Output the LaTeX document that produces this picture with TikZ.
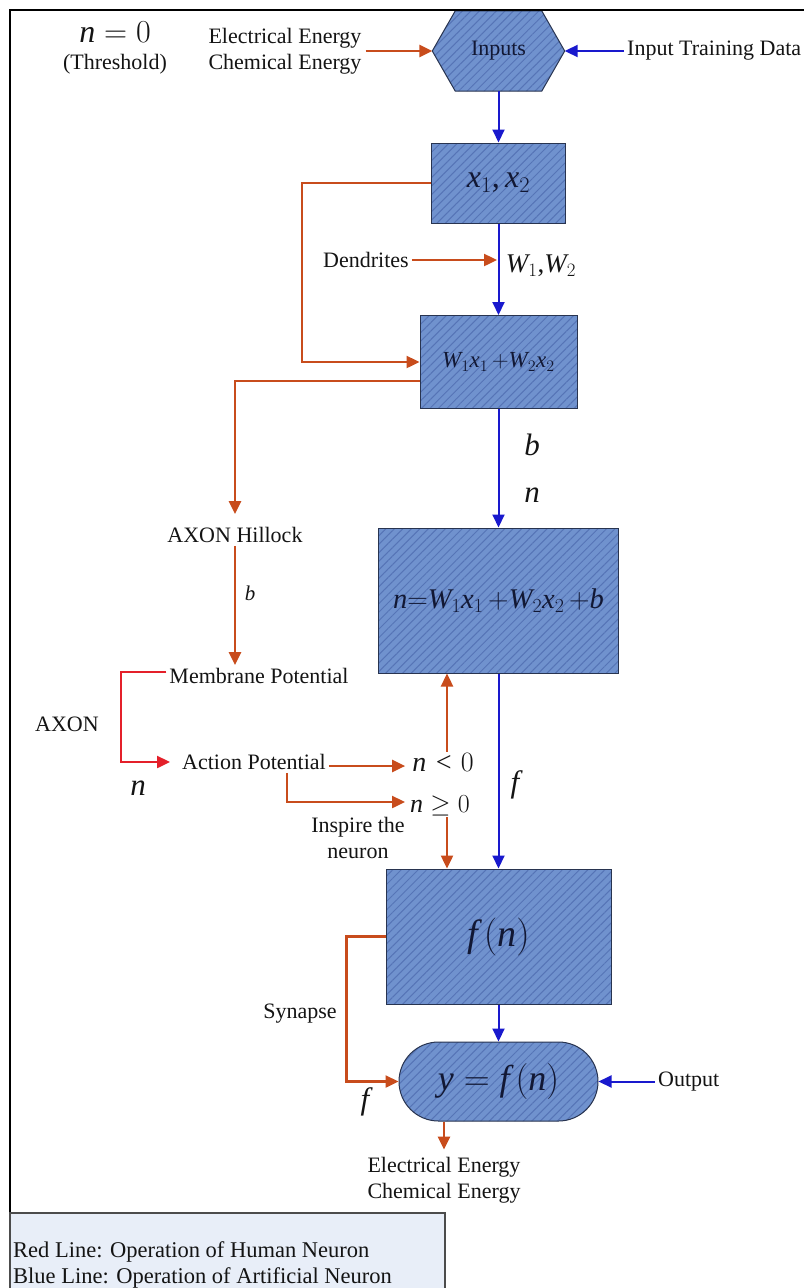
\RequirePackage{fix-cm}
\documentclass[tikz,border=0pt]{standalone}
\usepackage{fontspec}
\setmainfont{Liberation Serif}
\DeclareSymbolFont{letters}{TU}{\rmdefault}{m}{it}
\newcommand{\cm}{\mathpunct{\mbox{,}}}
\usetikzlibrary{arrows.meta,patterns.meta,calc,backgrounds}
\definecolor{bfill}{RGB}{112,146,206}
\definecolor{scol}{RGB}{86,116,182}
\definecolor{bcol}{RGB}{40,52,80}
\definecolor{btxt}{RGB}{18,24,52}
\definecolor{txt}{RGB}{20,20,20}
\definecolor{ocol}{RGB}{200,76,28}
\definecolor{blcol}{RGB}{25,25,205}
\definecolor{rcol}{RGB}{228,32,42}
\definecolor{legfill}{RGB}{232,238,248}
\begin{document}
\begin{tikzpicture}[x=1pt,y=-1pt,
  lbl/.style={font=\fontsize{22}{26.5}\selectfont, text=txt, inner sep=3pt},
  mlbl/.style={font=\fontsize{31}{34}\selectfont, text=txt, inner sep=1pt},
  blk/.style={draw=bcol, line width=1pt, preaction={fill=bfill},
    pattern={Lines[angle=45,distance=6pt,line width=1pt]}, pattern color=scol,
    text=btxt, inner sep=0pt},
  tipA/.style={-{Triangle[length=13pt,width=12pt]}},
  org/.style={draw=ocol, line width=2.4pt, tipA},
  blu/.style={draw=blcol, line width=2pt, tipA},
  redl/.style={draw=rcol, line width=2.4pt, tipA},
]
\useasboundingbox (0,0) rectangle (804,1288);
% frame
\draw[line width=2.5pt, black] (10,1288) -- (10,10) -- (804,10);

% top row
\node[mlbl, font=\fontsize{32}{34}\selectfont] (nzero) at (115,32) {$n=0$};
\node[lbl] (thresh) at (115,64) {(Threshold)};
\node[lbl, align=center] (ein) at (285,51) {Electrical Energy\\Chemical Energy};
\node[minimum width=132pt, minimum height=80pt, inner sep=0pt,
      font=\fontsize{22}{26.5}\selectfont, text=btxt] (inputs) at (498.5,51) {Inputs};
\begin{scope}[on background layer]
\fill[white] (0,0) rectangle (804,1288);
\path[blk] (inputs.west) -- ([xshift=23pt]inputs.north west) -- ([xshift=-23pt]inputs.north east)
  -- (inputs.east) -- ([xshift=-23pt]inputs.south east) -- ([xshift=23pt]inputs.south west) -- cycle;
\end{scope}
\node[lbl, anchor=west] (itd) at (624,51) {Input Training Data};
\draw[org, shorten <=1pt] (ein.east) -- (inputs.west);
\draw[blu] (itd.west) -- (inputs.east);

% box 1
\node[blk, minimum width=134pt, minimum height=80pt, font=\fontsize{32}{34}\selectfont] (box1) at (498.5,183) {$x_1\cm x_2$};
\draw[blu] (inputs.south) -- (box1.north);

% dendrites
\node[lbl] (dend) at (366,260) {Dendrites};
\node[mlbl, font=\fontsize{27}{30}\selectfont] (w12) at (541,266) {$W_1\mbox{,}W_2$};
\coordinate (dtip) at (497,260);
\draw[org] (dend.east) -- (dtip);

% box 2
\node[blk, minimum width=157pt, minimum height=93pt, font=\fontsize{23}{26}\selectfont] (box2) at (498.5,362) {$W_1x_1\,{+}W_2x_2$};
\draw[blu] (box1.south) -- (box2.north);
\draw[org] (box1.west) -- ++(-129,0) |- (box2.west);

% b, n labels
\node[mlbl] (lb) at (532,445) {$b$};
\node[mlbl] (ln) at (532,495) {$n$};

% box 3
\node[blk, minimum width=240pt, minimum height=145pt, font=\fontsize{28.5}{32}\selectfont] (box3) at (498.5,600.5) {$n{=}W_1x_1\,{+}W_2x_2\,{+}b$};
\draw[blu] (box2.south) -- (box3.north);

% left branch
\node[lbl] (hillock) at (235,535) {AXON Hillock};
\draw[org] ([yshift=-19pt]box2.west) -| ([yshift=10pt]hillock.north);
\node[lbl] (membrane) at (259,676) {Membrane Potential};
\draw[org] (hillock.south) -- (hillock.south |- membrane.north);
\node[mlbl, font=\fontsize{21}{24}\selectfont] (sb) at (250,593) {$b$};
\node[lbl] (axon) at (67,724) {AXON};
\node[lbl] (action) at (254,762) {Action Potential};
\node[mlbl] (ln2) at (138,788) {$n$};
\draw[redl, shorten >=9pt] ([yshift=4pt]membrane.west) -- ++(-45,0) |- (action.west);

% thresholds
\node[mlbl, font=\fontsize{28}{30}\selectfont] (nlt) at (443,762) {$n<0$};
\node[mlbl, font=\fontsize{26}{30}\selectfont] (nge) at (440,806) {$n\geq 0$};
\draw[org, shorten >=6pt] ([yshift=-4pt]action.east) -- ([yshift=-4pt]nlt.west);
\draw[org] ([xshift=4pt]nlt.north) -- ([xshift=4pt]nlt.north |- box3.south);
\draw[org, shorten >=4pt] ([xshift=33pt]action.south) |- ([yshift=4pt]nge.west);
\node[lbl, align=center, inner sep=1pt] (inspire) at (358,838) {Inspire the\\neuron};
\node[mlbl] (lf) at (515,785) {$f$};

% box 4
\node[blk, minimum width=225pt, minimum height=135pt, font=\fontsize{38}{40}\selectfont] (box4) at (498.5,936.5) {$f\,(n)$};
\draw[blu] (box3.south) -- (box4.north);
\draw[org] ([xshift=7pt]nge.south) -- ([xshift=7pt]nge.south |- box4.north);

% output stadium
\node[blk, minimum width=199pt, minimum height=79pt, rounded corners=39.5pt, font=\fontsize{36}{38}\selectfont] (stad) at (498.5,1081.5) {$y=f\,(n)$};
\draw[blu] (box4.south) -- (stad.north);
\node[lbl] (synapse) at (300,1014) {Synapse};
\draw[org] (box4.west) -- ++(-39,0) |- (stad.west);
\node[mlbl] (lf2) at (365,1102) {$f$};
\node[lbl, anchor=west] (output) at (655,1081.5) {Output};
\draw[blu] (output.west) -- (stad.east);
\node[lbl, align=center, inner sep=1pt] (eout) at (444,1180) {Electrical Energy\\Chemical Energy};
\draw[org] (eout.north |- stad.south) -- ([yshift=6pt]eout.north);

% legend
\draw[draw=black!70, line width=1.4pt, fill=legfill] (10,1213) rectangle (445,1300);
\node[lbl, anchor=west, align=left, inner sep=0pt, font=\fontsize{22.5}{26}\selectfont] (legend) at (13,1265) {Red Line: Operation of Human Neuron\\Blue Line: Operation of Artificial Neuron};
\end{tikzpicture}
\end{document}
